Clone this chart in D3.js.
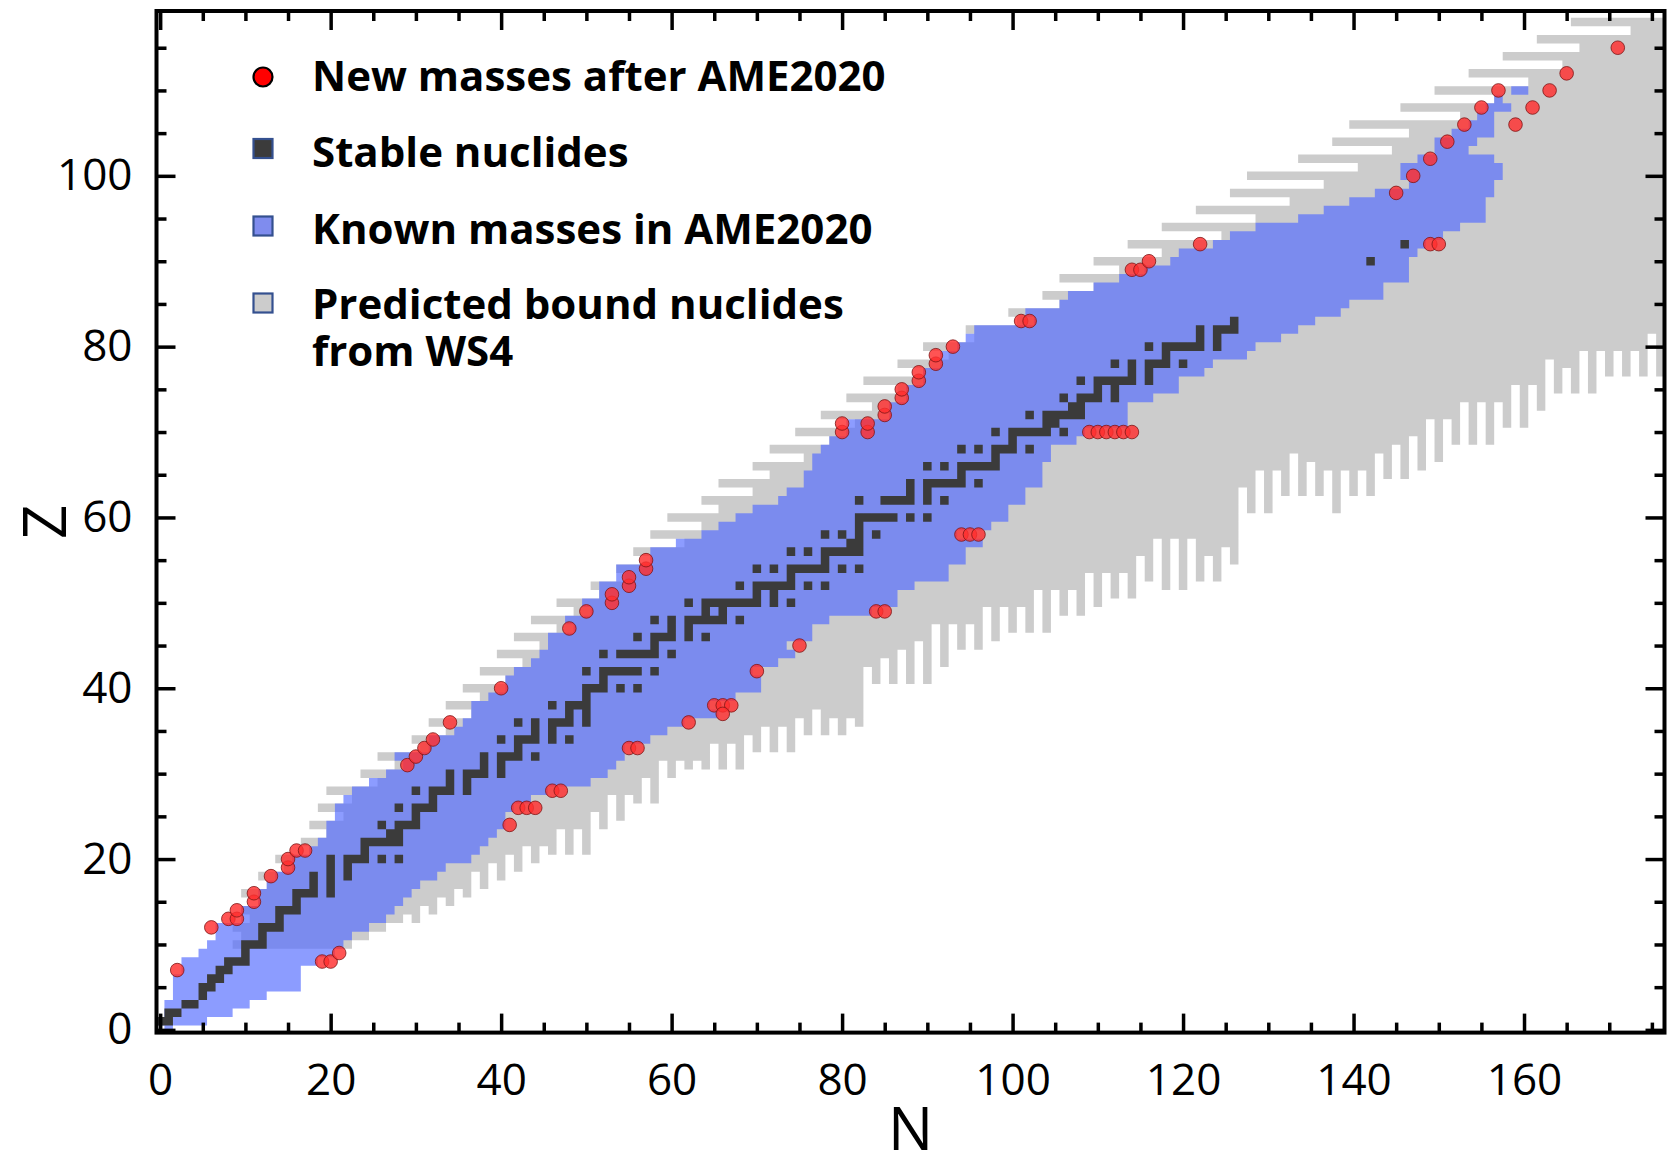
<!DOCTYPE html>
<html>
<head>
<meta charset="utf-8">
<script src="https://cdn.jsdelivr.net/npm/d3@7"></script>
<style>
  html, body { margin: 0; padding: 0; background: #fff; }
  svg { display: block; }
  text { font-family: "Open Sans", "DejaVu Sans", sans-serif; fill: #000; }
</style>
</head>
<body>
<svg id="chart" width="1668" height="1155"></svg>
<script>
// ---------------------------------------------------------------
// Chart of nuclides: WS4 bound region, AME2020 known masses,
// stable nuclides and new mass measurements.
// ---------------------------------------------------------------

// WS4 bound nuclides: lowest bound N for every proton number Z (index = Z)
const wsMinN = [
  null, null, null, null, null, null, null, null, null, null,
  9, 10, 9, 11, 10, 12, 10, 13, 12, 15,          // Z 10-19
  14, 18, 17, 20, 18, 22, 19, 23, 20, 26,        // Z 20-29
  24, 28, 26, 31, 30, 34, 32, 37, 34, 38,        // Z 30-39
  36, 41, 38, 43, 40, 45, 42, 47, 44, 49,        // Z 40-49
  47, 52, 51, 55, 54, 58, 56, 62, 58, 64,        // Z 50-59
  60, 66, 64, 70, 66, 72, 70, 76, 72, 79,        // Z 60-69
  75, 82, 78, 84, 81, 87, 83, 90, 87, 93,        // Z 70-79
  90, 96, 95, 101, 100, 106, 104, 110, 106, 113, // Z 80-89
  110, 118, 114, 125, 118, 129, 122, 133, 126, 137, // Z 90-99
  128, 141, 134, 145, 138, 147, 140, 153, 146, 157, // Z 100-109
  150, 161, 154, 165, 158, 167, 162, 173, 166       // Z 110-118
];

// WS4 bound nuclides: lowest bound Z for every neutron number N (index = N)
const wsMinZ = [
  null, null, null, null, null, null, null, null, null,       // N 0-8
  10, 10, 10, 10, 10, 10, 10, 10, 10, 10, 10, 10, 10,          // N 9-21
  10, 11, 11, 12, 12, 13, 13, 14,                              // N 22-29
  13, 15, 14, 16, 15, 17, 16, 19, 17, 20,                      // N 30-39
  18, 21, 19, 22, 20, 22, 21, 24, 21, 24,                      // N 40-49
  21, 26, 24, 28, 25, 28, 27, 30, 27, 32,                      // N 50-59
  30, 32, 31, 32, 31, 34, 31, 34, 31, 35,                      // N 60-69
  33, 36, 33, 36, 33, 37, 35, 38, 35, 37,                      // N 70-79
  35, 37, 36, 43, 41, 44, 41, 45, 41, 46,                      // N 80-89
  41, 48, 43, 48, 45, 48, 45, 50, 46, 50,                      // N 90-99
  47, 50, 47, 52, 47, 52, 49, 52, 49, 54,                      // N 100-109
  50, 54, 51, 54, 51, 56, 53, 58, 52, 58,                      // N 110-119
  52, 58, 53, 56, 53, 57, 55, 64, 61, 66,                      // N 120-129
  61, 66, 63, 68, 63, 67, 63, 66, 61, 66,                      // N 130-139
  63, 66, 63, 68, 65, 69, 65, 70, 66, 72,                      // N 140-149
  67, 72, 69, 74, 69, 74, 69, 74, 71, 76,                      // N 150-159
  71, 76, 73, 79, 75, 78, 75, 80, 75, 80,                      // N 160-169
  77, 80, 77, 80, 77, 82, 77                                   // N 170-176
];
const wsMaxZ = 118;

// AME2020 experimental masses: N range for every Z (index = Z)
const ameMinN = [
  1, 0, 1, 1, 2, 2, 2, 3, 3, 5,
  6, 7, 7, 10, 10, 12, 12, 13, 14, 16,
  16, 18, 19, 20, 20, 21, 21, 22, 23, 25,
  27, 29, 28, 32, 32, 35, 36, 37, 37, 39,
  41, 41, 42, 44, 45, 46, 46, 49, 48, 51,
  50, 52, 52, 54, 54, 58, 58, 61, 64, 66,
  68, 70, 73, 74, 76, 76, 77, 77, 78, 79,
  81, 81, 86, 86, 88, 88, 90, 90, 92, 92,
  94, 95, 96, 103, 102, 106, 107, 110, 113, 116,
  119, 120, 124, 126, 129, 134, 137, 140, 143, 147,
  146, 146, 148, 150, 150, 152, 154, 155, 156, 157,
  159
];
const ameMaxN = [
  1, 5, 8, 10, 12, 16, 16, 16, 18, 20,
  21, 22, 24, 26, 27, 28, 29, 30, 32, 33,
  36, 37, 38, 39, 40, 40, 41, 43, 45, 50,
  52, 53, 54, 54, 57, 59, 61, 65, 64, 67,
  70, 70, 69, 72, 74, 73, 76, 76, 78, 83,
  86, 86, 88, 92, 92, 94, 94, 96, 93, 97,
  99, 99, 101, 101, 103, 103, 103, 104, 104, 107,
  108, 113, 113, 113, 116, 119, 119, 122, 123, 127,
  128, 131, 133, 135, 138, 139, 143, 143, 146, 146,
  146, 147, 148, 150, 152, 155, 155, 155, 156, 156,
  157, 157, 156, 153, 154, 156, 156, 156, 158, 157,
  160
];

// Stable nuclides: neutron numbers for every Z (index = Z)
const stableN = [
  [], [0, 1], [1, 2], [3, 4], [5], [5, 6], [6, 7], [7, 8], [8, 9, 10], [10],
  [10, 11, 12], [12], [12, 13, 14], [14], [14, 15, 16], [16], [16, 17, 18, 20], [18, 20], [18, 20, 22], [20, 22],
  [20, 22, 23, 24, 26, 28], [24], [24, 25, 26, 27, 28], [27, 28], [26, 28, 29, 30], [30], [28, 30, 31, 32], [32], [30, 32, 33, 34, 36], [34, 36],
  [34, 36, 37, 38, 40], [38, 40], [38, 40, 41, 42, 44], [42], [40, 42, 43, 44, 46, 48], [44, 46], [42, 44, 46, 47, 48, 50], [48, 50], [46, 48, 49, 50], [50],
  [50, 51, 52, 54, 56], [52], [50, 52, 53, 54, 55, 56, 58], [], [52, 54, 55, 56, 57, 58, 60], [58], [56, 58, 59, 60, 62, 64], [60, 62], [58, 60, 62, 63, 64, 65, 66, 68], [64, 66],
  [62, 64, 65, 66, 67, 68, 69, 70, 72, 74], [70, 72], [68, 70, 71, 72, 73, 74, 76, 78], [74], [70, 72, 74, 75, 76, 77, 78, 80, 82], [78], [74, 76, 78, 79, 80, 81, 82], [81, 82], [78, 80, 82, 84], [82],
  [82, 83, 84, 85, 86, 88, 90], [], [82, 85, 86, 87, 88, 90, 92], [88, 90], [88, 90, 91, 92, 93, 94, 96], [94], [90, 92, 94, 95, 96, 97, 98], [98], [94, 96, 98, 99, 100, 102], [100],
  [98, 100, 101, 102, 103, 104, 106], [104, 105], [102, 104, 105, 106, 107, 108], [107, 108], [106, 108, 109, 110, 112], [110, 112], [108, 110, 111, 112, 113, 114, 116], [114, 116], [112, 114, 116, 117, 118, 120], [118],
  [116, 118, 119, 120, 121, 122, 124], [122, 124], [122, 124, 125, 126], [126], [], [], [], [], [], [],
  [142], [], [146]
];

// New masses measured after AME2020 (parallel N / Z lists)
const newN = [
  2, 6, 8, 9, 9, 11, 11, 13, 15, 15, 16, 17, 19, 20, 21,
  29, 30, 31, 32, 34, 40, 41, 42, 43, 44, 46, 47,
  48, 50, 53, 53, 55, 55, 57, 57, 55, 56, 62, 65, 66, 67, 66, 70, 75,
  80, 80, 83, 83, 85, 85, 87, 87, 89, 89, 91, 91, 93,
  84, 85, 94, 95, 96, 101, 102,
  109, 110, 111, 112, 113, 114,
  114, 115, 116, 122,
  145, 147, 149, 151, 153, 155, 157, 149, 150, 159, 161, 163, 165, 171
];
const newZ = [
  7, 12, 13, 13, 14, 15, 16, 18, 19, 20, 21, 21, 8, 8, 9,
  31, 32, 33, 34, 36, 40, 24, 26, 26, 26, 28, 28,
  47, 49, 50, 51, 52, 53, 54, 55, 33, 33, 36, 38, 38, 38, 37, 42, 45,
  70, 71, 70, 71, 72, 73, 74, 75, 76, 77, 78, 79, 80,
  49, 49, 58, 58, 58, 83, 83,
  70, 70, 70, 70, 70, 70,
  89, 89, 90, 92,
  98, 100, 102, 104, 106, 108, 110, 92, 92, 106, 108, 110, 112, 115
];

// Axis ticks
const xMajorTicks = [0, 20, 40, 60, 80, 100, 120, 140, 160];
const xMinorTicks = d3.range(5, 180, 5).filter(v => v % 20 !== 0);
const yMajorTicks = [0, 20, 40, 60, 80, 100];
const yMinorTicks = d3.range(5, 120, 5).filter(v => v % 20 !== 0);

// Legend entries
const legendLabels = [
  ["New masses after AME2020"],
  ["Stable nuclides"],
  ["Known masses in AME2020"],
  ["Predicted bound nuclides", "from WS4"]
];

// ---------------------------------------------------------------
const svg = d3.select("#chart");
const frame = { left: 156.5, right: 1664.5, top: 11, bottom: 1032.6 };

const x = d3.scaleLinear().domain([-0.43, 176.48]).range([frame.left, frame.right]);
const y = d3.scaleLinear().domain([-0.32, 119.3]).range([frame.bottom, frame.top]);

const colors = {
  grey: "#cccccc",
  blue: "rgb(84,107,255)",
  blueOpacity: 0.67,
  stable: "#3b3b3b",
  newFill: "#ff2e2e",
  newStroke: "#7d1515",
  legendEdge: "#34508f"
};

svg.append("defs").append("clipPath").attr("id", "plot-clip")
  .append("rect")
  .attr("x", frame.left).attr("y", frame.top)
  .attr("width", frame.right - frame.left).attr("height", frame.bottom - frame.top);

const cells = svg.append("g").attr("clip-path", "url(#plot-clip)");

// adds a horizontal run of cells [n0, n1] in row Z to a path
function addRun(p, n0, n1, z) {
  const x0 = x(n0 - 0.5), x1 = x(n1 + 0.5);
  const yTop = y(z + 0.5), yBot = y(z - 0.5);
  p.rect(x0, yTop, x1 - x0, yBot - yTop);
}

// WS4 bound region
const isBound = (n, z) =>
  wsMinN[z] != null && wsMinZ[n] != null &&
  n >= wsMinN[z] && z >= wsMinZ[n] && z <= wsMaxZ;

const greyPath = d3.path();
for (let z = 0; z <= wsMaxZ; z++) {
  let start = null;
  for (let n = 0; n <= wsMinZ.length; n++) {
    const inside = n < wsMinZ.length && isBound(n, z);
    if (inside && start === null) start = n;
    if (!inside && start !== null) { addRun(greyPath, start, n - 1, z); start = null; }
  }
}
cells.append("path").attr("d", greyPath.toString()).attr("fill", colors.grey);

// AME2020 known masses (translucent, so it darkens where the WS4 region lies beneath)
const bluePath = d3.path();
ameMinN.forEach((n0, z) => addRun(bluePath, n0, ameMaxN[z], z));
cells.append("path").attr("d", bluePath.toString())
  .attr("fill", colors.blue).attr("fill-opacity", colors.blueOpacity);

// stable nuclides
const stablePath = d3.path();
stableN.forEach((list, z) => list.forEach(n => addRun(stablePath, n, n, z)));
cells.append("path").attr("d", stablePath.toString()).attr("fill", colors.stable);

// new mass measurements
const newMasses = newN.map((n, i) => ({ n, z: newZ[i] }));
cells.append("g").selectAll("circle").data(newMasses).join("circle")
  .attr("cx", d => x(d.n)).attr("cy", d => y(d.z)).attr("r", 6.8)
  .attr("fill", colors.newFill).attr("fill-opacity", 0.82)
  .attr("stroke", colors.newStroke).attr("stroke-width", 1).attr("stroke-opacity", 0.8);

// ---------------------------------------------------------------
// axes: ticks point inward on all four sides
const tickStyle = g => {
  g.select(".domain").remove();
  g.selectAll(".tick line").attr("stroke", "#000").attr("stroke-width", 3.5);
  g.selectAll(".tick text").style("font-size", "44px").style("font-family", "'Open Sans', sans-serif");
};
const noLabels = g => g.selectAll(".tick text").remove();

svg.append("g").attr("transform", `translate(0,${frame.bottom})`)
  .call(d3.axisBottom(x).tickValues(xMinorTicks).tickSize(-10).tickFormat(""))
  .call(tickStyle).call(noLabels);
svg.append("g").attr("transform", `translate(0,${frame.bottom})`)
  .call(d3.axisBottom(x).tickValues(xMajorTicks).tickSize(-19).tickPadding(31).tickFormat(d3.format("d")))
  .call(tickStyle);
svg.append("g").attr("transform", `translate(0,${frame.top})`)
  .call(d3.axisTop(x).tickValues(xMinorTicks).tickSize(-10).tickFormat(""))
  .call(tickStyle).call(noLabels);
svg.append("g").attr("transform", `translate(0,${frame.top})`)
  .call(d3.axisTop(x).tickValues(xMajorTicks).tickSize(-19).tickFormat(""))
  .call(tickStyle).call(noLabels);

svg.append("g").attr("transform", `translate(${frame.left},0)`)
  .call(d3.axisLeft(y).tickValues(yMinorTicks).tickSize(-10).tickFormat(""))
  .call(tickStyle).call(noLabels);
svg.append("g").attr("transform", `translate(${frame.left},0)`)
  .call(d3.axisLeft(y).tickValues(yMajorTicks).tickSize(-19).tickPadding(24).tickFormat(d3.format("d")))
  .call(tickStyle);
svg.append("g").attr("transform", `translate(${frame.right},0)`)
  .call(d3.axisRight(y).tickValues(yMinorTicks).tickSize(-10).tickFormat(""))
  .call(tickStyle).call(noLabels);
svg.append("g").attr("transform", `translate(${frame.right},0)`)
  .call(d3.axisRight(y).tickValues(yMajorTicks).tickSize(-19).tickFormat(""))
  .call(tickStyle).call(noLabels);

// frame
svg.append("rect")
  .attr("x", frame.left).attr("y", frame.top)
  .attr("width", frame.right - frame.left).attr("height", frame.bottom - frame.top)
  .attr("fill", "none").attr("stroke", "#000").attr("stroke-width", 4);

// axis titles
svg.append("text").attr("x", (frame.left + frame.right) / 2).attr("y", 1150)
  .attr("text-anchor", "middle").style("font-size", "60px").text("N");
svg.append("text")
  .attr("transform", `translate(66,${(frame.top + frame.bottom) / 2}) rotate(-90)`)
  .attr("text-anchor", "middle").style("font-size", "60px").text("Z");

// ---------------------------------------------------------------
// legend
const legend = svg.append("g");
const markerX = 263, textX = 312;
const rowCenters = [77, 148.5, 226, 303];
const baselines = [[91], [167], [244], [319], [366]];

legend.append("circle").attr("cx", markerX).attr("cy", rowCenters[0]).attr("r", 9.5)
  .attr("fill", "#ff0000").attr("stroke", "#000").attr("stroke-width", 2.2);
[colors.stable, "rgb(127,140,238)", colors.grey].forEach((fill, i) => {
  legend.append("rect")
    .attr("x", markerX - 9.5).attr("y", rowCenters[i + 1] - 9.5)
    .attr("width", 19).attr("height", 19)
    .attr("fill", fill).attr("stroke", colors.legendEdge).attr("stroke-width", 2.2);
});
// each legend line is its own text element
const legendLines = [];
legendLabels.forEach(lines => lines.forEach(line => legendLines.push(line)));
legendLines.forEach((line, k) => {
  legend.append("text").attr("x", textX).attr("y", baselines[k][0])
    .style("font-size", "42px").style("font-weight", "700").text(line);
});
</script>
</body>
</html>
